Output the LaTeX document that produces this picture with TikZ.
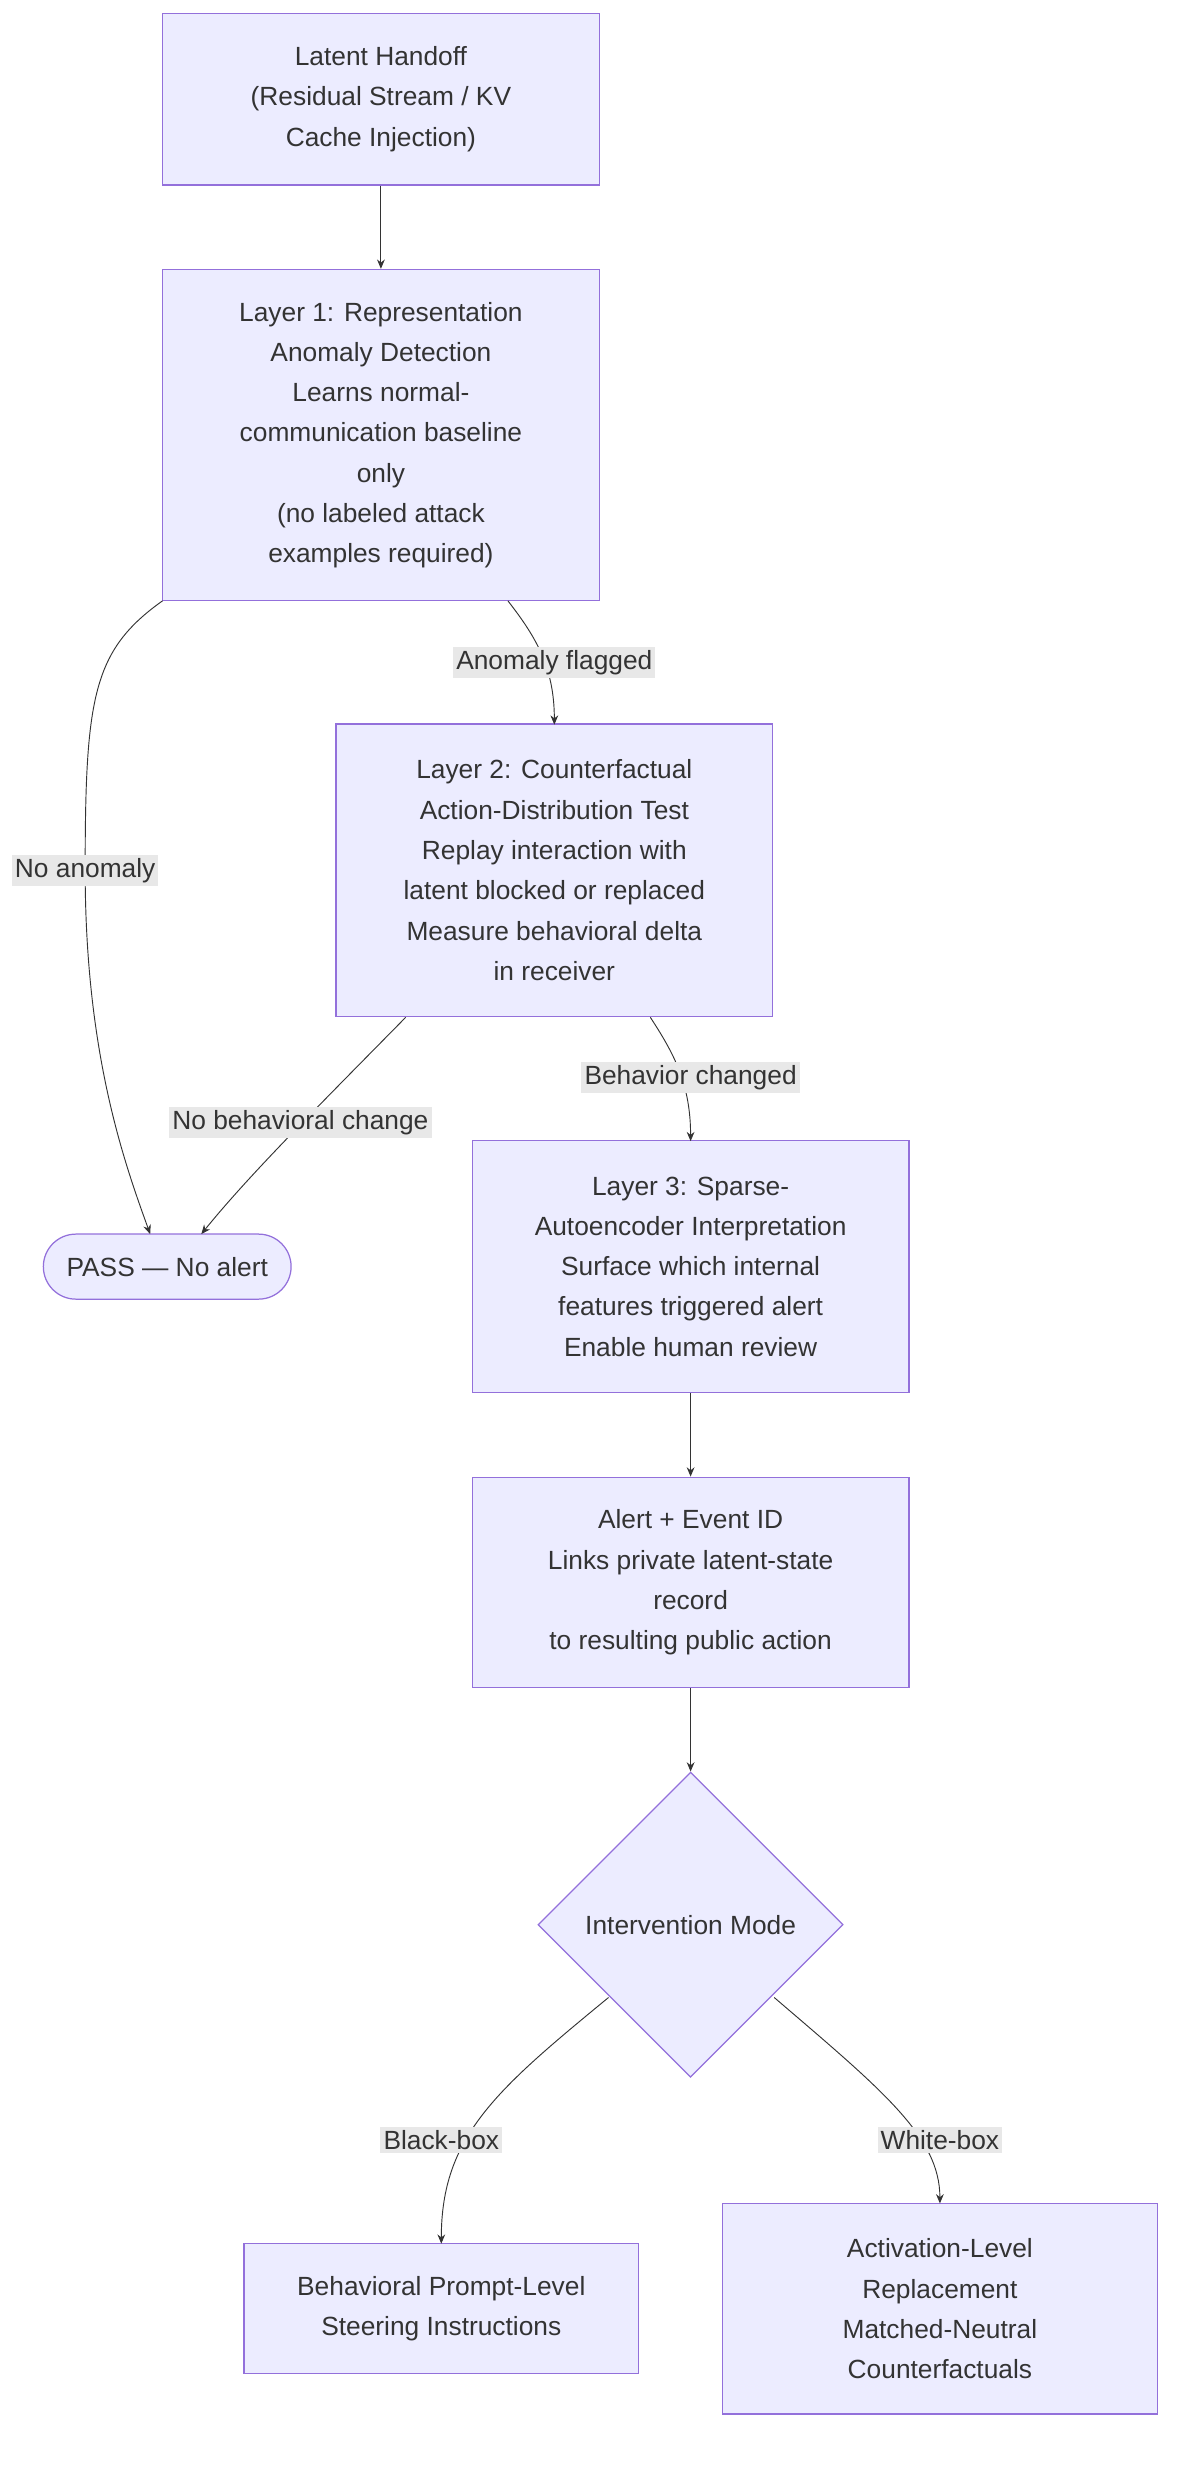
\documentclass[tikz,border=0pt]{standalone}
\usepackage{fontspec}
\setmainfont{Liberation Sans}
\usetikzlibrary{shapes.geometric,arrows.meta}
\definecolor{nf}{HTML}{ECECFF}
\definecolor{nb}{HTML}{9370DB}
\definecolor{tx}{HTML}{333333}
\definecolor{lb}{HTML}{E8E8E8}
\begin{document}
\begin{tikzpicture}[x=1pt,y=-1pt,
  box/.style={draw=nb,fill=nf,line width=0.8pt,align=center,text=tx,font=\fontsize{17}{26}\selectfont,inner sep=0pt},
  lab/.style={fill=lb,text=tx,font=\fontsize{17}{19}\selectfont,inner sep=2pt},
  e/.style={draw=tx,line width=0.6pt,-{Stealth[length=6pt,width=5pt]}}]
\useasboundingbox (0,0) rectangle (775,1605.5);
\node[box,minimum width=282,minimum height=111] (a) at (246,64) {Latent Handoff\\(Residual Stream / KV\\Cache Injection)};
\node[box,minimum width=282,minimum height=214] (b) at (246,281) {Layer 1: Representation\\Anomaly Detection\\Learns normal-\\communication baseline\\only\\(no labeled attack\\examples required)};
\node[box,minimum width=282,minimum height=189] (c) at (358,562) {Layer 2: Counterfactual\\Action-Distribution Test\\Replay interaction with\\latent blocked or replaced\\Measure behavioral delta\\in receiver};
\node[box,rounded corners=21,minimum width=160,minimum height=42] (p) at (108,818) {PASS — No alert};
\node[box,minimum width=282,minimum height=163] (d) at (446,818) {Layer 3: Sparse-\\Autoencoder Interpretation\\Surface which internal\\features triggered alert\\Enable human review};
\node[box,minimum width=282,minimum height=136] (f) at (446,1022) {Alert + Event ID\\Links private latent-state\\record\\to resulting public action};
\node[box,diamond,aspect=1,minimum width=197,minimum height=197] (g) at (446,1243) {Intervention Mode};
\node[box,minimum width=255,minimum height=84] (h) at (285,1491) {Behavioral Prompt-Level\\Steering Instructions};
\node[box,minimum width=281,minimum height=136] (i) at (607,1491) {Activation-Level\\Replacement\\Matched-Neutral\\Counterfactuals};
\draw[e] (a) -- (b);
\draw[e] (105,388) .. controls (60,420) and (55,450) .. (55,562) .. controls (55,680) and (80,750) .. (97,797);
\draw[e] (328,388) .. controls (345,410) and (358,430) .. (358,468);
\draw[e] (262,657) .. controls (200,720) and (160,760) .. (130,797);
\draw[e] (420,657) .. controls (435,680) and (446,700) .. (446,737);
\draw[e] (d) -- (f);
\draw[e] (f) -- (g);
\draw[e] (393,1290) .. controls (320,1350) and (285,1380) .. (285,1449);
\draw[e] (500,1290) .. controls (570,1350) and (607,1380) .. (607,1423);
\node[lab] (l1) at (358,428) {Anomaly flagged};
\node[lab] (l2) at (55,562) {No anomaly};
\node[lab] (l3) at (194,725) {No behavioral change};
\node[lab] (l4) at (446,696) {Behavior changed};
\node[lab] (l5) at (285,1382) {Black-box};
\node[lab] (l6) at (607,1382) {White-box};
\end{tikzpicture}
\end{document}
